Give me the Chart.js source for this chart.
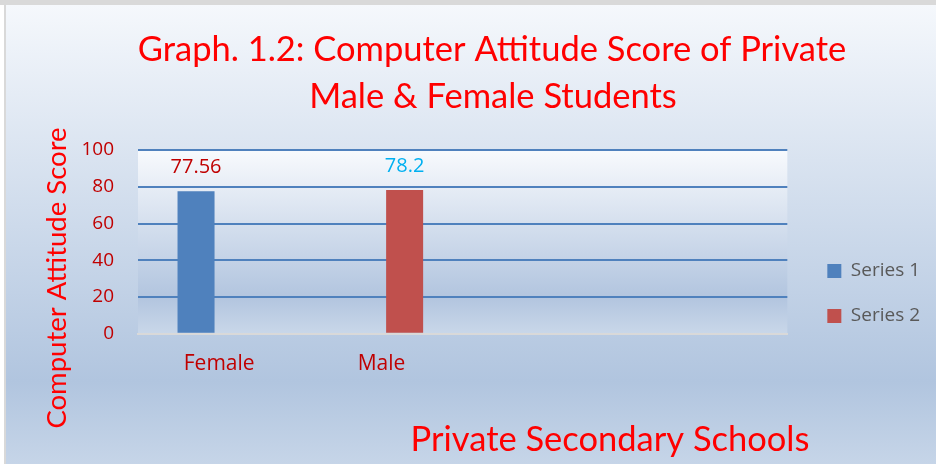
<!DOCTYPE html>
<html><head><meta charset="utf-8">
<script src="https://cdn.jsdelivr.net/npm/chart.js@4.4.1/dist/chart.umd.min.js"></script>
<style>html,body{margin:0;padding:0;background:#fff;}canvas{display:block}</style>
</head><body><canvas id="c" width="936" height="464"></canvas>
<script>
const chartTitle = ["Graph. 1.2: Computer Attitude Score of Private", "Male & Female Students"];
const categories = ["Female", "Male", "", ""];
const seriesNames = ["Series 1", "Series 2"];
const series1 = [77.56, null, null, null];
const series2 = [null, 78.2, null, null];
const yTicks = [0, 20, 40, 60, 80, 100];
const yAxisTitle = "Computer Attitude Score";
const xAxisTitle = "Private Secondary Schools";

const decor = {
  id: 'decor',
  beforeDraw(chart) {
    const ctx = chart.ctx, W = chart.width, H = chart.height, a = chart.chartArea;
    ctx.save();
    ctx.fillStyle = '#fff'; ctx.fillRect(0, 0, W, H);
    ctx.fillStyle = '#d9d9d9'; ctx.fillRect(0, 0, W, 5); ctx.fillRect(4, 0, 2, H);
    let g = ctx.createLinearGradient(0, 5, 0, H);
    g.addColorStop(0, '#f5f8fc'); g.addColorStop(0.82, '#b1c5df'); g.addColorStop(1, '#c6d5e8');
    ctx.fillStyle = g; ctx.fillRect(6, 5, W - 6, H - 5);
    g = ctx.createLinearGradient(0, a.top, 0, a.bottom);
    g.addColorStop(0, '#f8fafd'); g.addColorStop(0.8, '#b2c5df'); g.addColorStop(1, '#c9d7e9');
    ctx.fillStyle = g; ctx.fillRect(a.left, a.top, a.right - a.left, a.bottom - a.top);
    ctx.restore();
  },
  afterDatasetsDraw(chart) {
    const ctx = chart.ctx;
    chart.data.datasets.forEach((ds, i) => {
      const meta = chart.getDatasetMeta(i);
      meta.data.forEach((el, j) => {
        const v = ds.data[j];
        if (v == null) return;
        ctx.save();
        ctx.font = '20px "Open Sans"';
        ctx.fillStyle = ds.labelColor;
        ctx.textAlign = 'center'; ctx.textBaseline = 'middle';
        ctx.fillText(String(v), el.x, el.y - 24);
        ctx.restore();
      });
    });
  },
  afterDraw(chart) {
    const ctx = chart.ctx;
    ctx.save();
    ctx.fillStyle = '#ff0000';
    ctx.textAlign = 'center'; ctx.textBaseline = 'middle';
    ctx.font = '34.5px Lato';
    ctx.fillText(chartTitle[0], 492, 50);
    ctx.fillText(chartTitle[1], 493, 97);
    ctx.fillText(xAxisTitle, 610, 440);
    ctx.translate(57, 278); ctx.rotate(-Math.PI / 2);
    ctx.font = '27.5px Lato';
    ctx.fillText(yAxisTitle, 0, 0);
    ctx.restore();
  }
};

new Chart(document.getElementById('c'), {
  type: 'bar',
  data: {
    labels: categories,
    datasets: [
      { label: seriesNames[0], data: series1, backgroundColor: '#4f81bd', borderWidth: 0, barPercentage: 0.8, categoryPercentage: 0.57, labelColor: '#c00000' },
      { label: seriesNames[1], data: series2, backgroundColor: '#c0504d', borderWidth: 0, barPercentage: 0.8, categoryPercentage: 0.57, labelColor: '#00b0f0' }
    ]
  },
  options: {
    responsive: false, animation: false, devicePixelRatio: 1,
    layout: { padding: { top: 150, left: 0, right: 6, bottom: 69 } },
    plugins: {
      title: { display: false }, tooltip: { enabled: false },
      legend: { position: 'right', align: 'start', fullSize: true,
        title: { display: true, text: ' ', font: { size: 10, lineHeight: 1.2 }, padding: { top: 73.5, bottom: 0 } },
        labels: { boxWidth: 14, boxHeight: 14, padding: 26, color: '#595959', font: { family: 'Open Sans', size: 19 } } }
    },
    scales: {
      x: { grid: { display: false, drawTicks: false }, border: { display: true, color: '#d9d9d9', width: 2 },
        ticks: { color: '#c00000', font: { family: 'Open Sans', size: 21 }, padding: 18, maxRotation: 0, autoSkip: false } },
      y: { min: 0, max: 100,
        afterBuildTicks(s) { s.ticks = yTicks.map(v => ({ value: v })); },
        grid: { color: c => (c.tick && c.tick.value === 0) ? 'rgba(0,0,0,0)' : '#4f81bd', lineWidth: 2, drawTicks: false },
        border: { display: false },
        ticks: { color: '#c00000', font: { family: 'Open Sans', size: 19 }, padding: 24 },
        afterFit(s) { s.width = 138; } },
      y2: { position: 'right', display: true, grid: { display: false, drawTicks: false }, border: { display: false },
        ticks: { display: false }, afterFit(s) { s.width = 14; } }
    }
  },
  plugins: [decor]
});
</script></body></html>
